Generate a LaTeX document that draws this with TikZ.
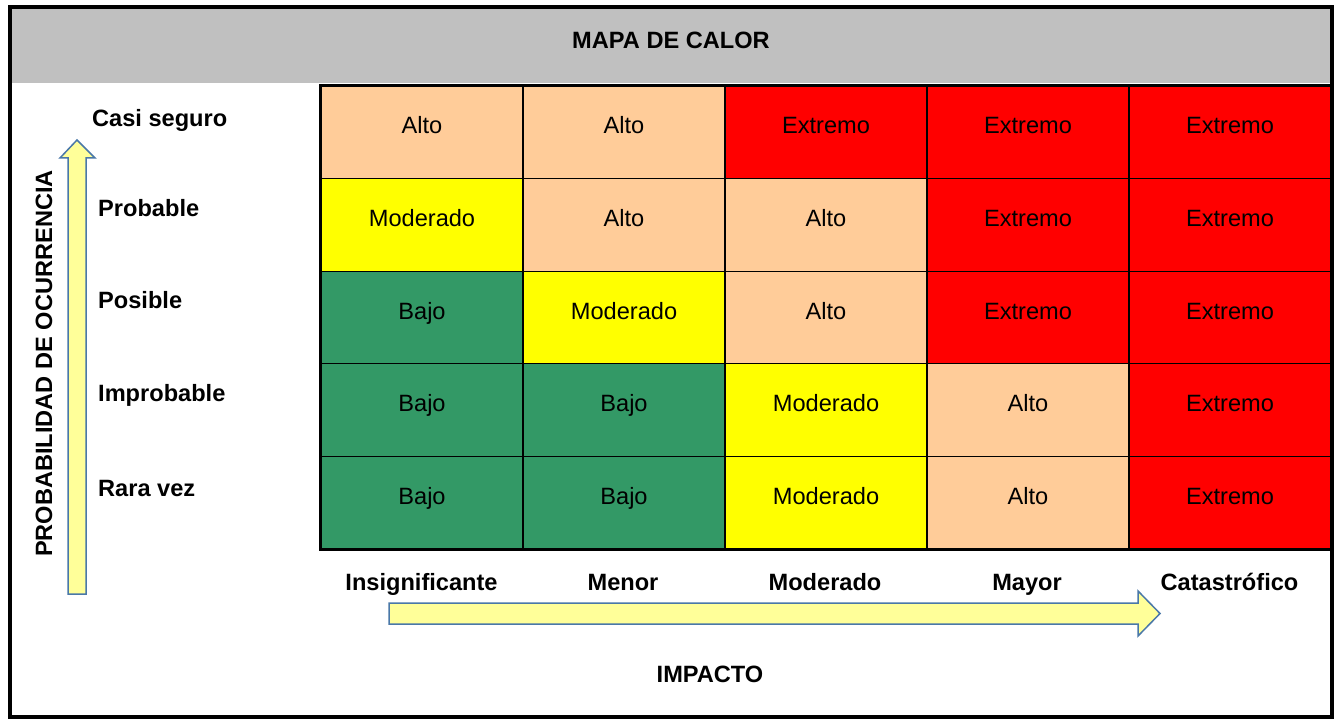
\documentclass[tikz,border=0pt]{standalone}
\usepackage{fontspec}
\setmainfont{Liberation Sans}
\definecolor{gristitulo}{HTML}{C0C0C0}
\definecolor{naranja}{HTML}{FFCC99}
\definecolor{rojo}{HTML}{FF0000}
\definecolor{amarillo}{HTML}{FFFF00}
\definecolor{verde}{HTML}{339966}
\definecolor{flechaclara}{HTML}{FFFF99}
\definecolor{flechaborde}{HTML}{4A78A8}
\tikzset{
  celda/.style={draw=black,line width=1.3pt,inner sep=0pt,minimum width=202pt,minimum height=92.6pt,
    text height=18pt,text depth=14.6pt,font=\fontsize{23.6}{28}\selectfont},
  Alto/.style={fill=naranja},
  Extremo/.style={fill=rojo},
  Moderado/.style={fill=amarillo},
  Bajo/.style={fill=verde},
  etiqueta/.style={inner sep=0pt,font=\bfseries\fontsize{23.6}{28}\selectfont},
  flecha/.style={fill=flechaclara,draw=flechaborde,line width=1.5pt,line join=miter}
}
\begin{document}
\begin{tikzpicture}[x=1pt,y=-1pt]
   \useasboundingbox (0,0) rectangle (1337,719);
   \fill[white] (0,0) rectangle (1337,719);
   \fill[gristitulo] (10,7) rectangle (1332,83);
   \node[etiqueta,anchor=base] (titulo) at (671,48.5) {MAPA DE CALOR};
   % matriz de riesgo
   \foreach \r/\fila in {1/{Alto,Alto,Extremo,Extremo,Extremo},
                         2/{Moderado,Alto,Alto,Extremo,Extremo},
                         3/{Bajo,Moderado,Alto,Extremo,Extremo},
                         4/{Bajo,Bajo,Moderado,Alto,Extremo},
                         5/{Bajo,Bajo,Moderado,Alto,Extremo}}
     \foreach \nivel [count=\c] in \fila
       \node[celda,\nivel] (c\r\c) at ({321+202*(\c-0.5)},{86+92.6*(\r-0.5)}) {\nivel};
   \draw[line width=3.5pt] (c11.north west) rectangle (c55.south east);
   \draw[line width=4pt] (10.3,7) rectangle (1331.5,717);
   % probabilidad
   \node[etiqueta,anchor=base west] (casi) at (92,126.5) {Casi seguro};
   \node[etiqueta,anchor=base west] (probable) at (98,216.5) {Probable};
   \node[etiqueta,anchor=base west] (posible) at (98,308.5) {Posible};
   \node[etiqueta,anchor=base west] (improbable) at (98,401.5) {Improbable};
   \node[etiqueta,anchor=base west] (rara) at (98,496.5) {Rara vez};
   \node[etiqueta,rotate=90] (ejeprob) at (44,363.5) {PROBABILIDAD DE OCURRENCIA};
   \draw[flecha] (68,594) -- (68,158) -- (60,158) -- (77,140) -- (95,158) -- (86,158) -- (86,594) -- cycle;
   % impacto
   \node[etiqueta,anchor=base] (insig) at (421.5,590.5) {Insignificante};
   \node[etiqueta,anchor=base] (menor) at (623,590.5) {Menor};
   \node[etiqueta,anchor=base] (moderado) at (825,590.5) {Moderado};
   \node[etiqueta,anchor=base] (mayor) at (1027,590.5) {Mayor};
   \node[etiqueta,anchor=base] (catas) at (1229.5,590.5) {Catastrófico};
   \draw[flecha] (389,603) -- (1138,603) -- (1138,591) -- (1160,613.5) -- (1138,636) -- (1138,624) -- (389,624) -- cycle;
   \node[etiqueta,anchor=base] (impacto) at (710,682) {IMPACTO};
\end{tikzpicture}
\end{document}
